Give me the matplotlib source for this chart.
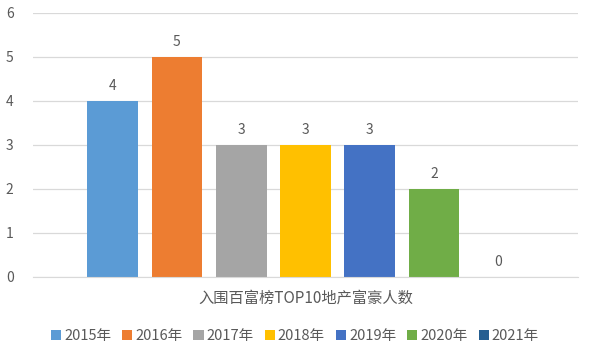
import numpy as np
import matplotlib.pyplot as plt

plt.rcParams['font.family'] = ['Noto Sans CJK SC', 'DejaVu Sans']

category = '入围百富榜TOP10地产富豪人数'
years = ['2015年', '2016年', '2017年', '2018年', '2019年', '2020年', '2021年']
counts = [4, 5, 3, 3, 3, 2, 0]
colors = ['#5B9BD5', '#ED7D31', '#A5A5A5', '#FFC000', '#4472C4', '#70AD47', '#255E91']

txt = '#595959'
fig = plt.figure(figsize=(5.9, 3.53), dpi=100)
ax = fig.add_axes([33/590, 76/353, 545/590, 264/353])

n = len(years)
for i, (yr, v, c) in enumerate(zip(years, counts, colors)):
    b = ax.bar(i - (n - 1) / 2, v, width=0.79, color=c, label=yr, zorder=3)
    ax.bar_label(b, padding=6, color=txt, fontsize=10)

ax.set_xlim(-4.24, 4.24)
ax.set_ylim(0, 6)
ax.set_yticks(range(7))
ax.set_xticks([0])
ax.set_xticklabels([category])
ax.tick_params(axis='both', length=0, colors=txt, labelsize=10)
ax.tick_params(axis='x', pad=9, labelsize=11)
ax.tick_params(axis='y', pad=14)
ax.grid(axis='y', color='#D9D9D9', linewidth=0.9, zorder=0)
for s in ['top', 'right', 'left']:
    ax.spines[s].set_visible(False)
ax.spines['bottom'].set_color('#D9D9D9')
ax.spines['bottom'].set_zorder(4)

fig.legend(loc='lower center', bbox_to_anchor=(0.5, -0.01), ncol=n, frameon=False,
           handlelength=0.7, handleheight=0.7, handletextpad=0.2, columnspacing=0.75,
           fontsize=10.5, labelcolor=txt)

fig.savefig('out.png', dpi=100)
